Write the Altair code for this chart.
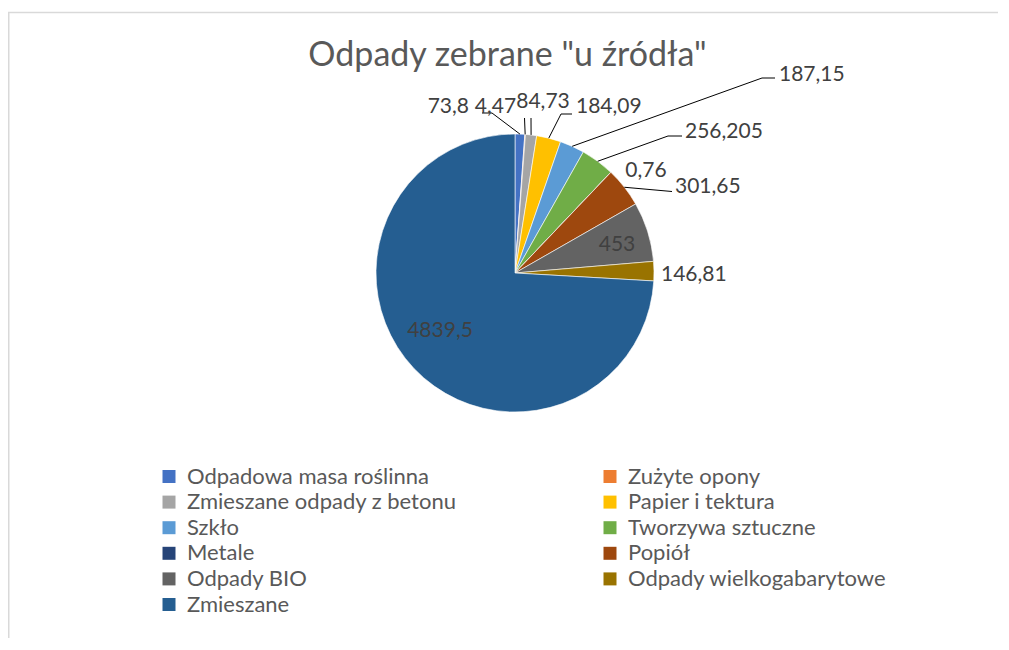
import math
import altair as alt
import pandas as pd

# ---------------- data ----------------
TITLE = 'Odpady zebrane "u źródła"'
CATEGORIES = [
    "Odpadowa masa roślinna", "Zużyte opony", "Zmieszane odpady z betonu",
    "Papier i tektura", "Szkło", "Tworzywa sztuczne", "Metale", "Popiół",
    "Odpady BIO", "Odpady wielkogabarytowe", "Zmieszane",
]
VALUES = [73.8, 4.47, 84.73, 184.09, 187.15, 256.205, 0.76, 301.65, 453, 146.81, 4839.5]
LABELS = ["73,8", "4,47", "84,73", "184,09", "187,15", "256,205", "0,76",
          "301,65", "453", "146,81", "4839,5"]
COLORS = ["#4472C4", "#ED7D31", "#A5A5A5", "#FFC000", "#5B9BD5", "#70AD47",
          "#264478", "#9E480E", "#636363", "#997300", "#255E91"]

# ---------------- layout ----------------
W, H = 990, 630          # whole drawing area (autosize none, padding 0)
CX, CY = 507, 265        # pie centre inside the view
R = 139                  # pie radius
FONT = "Lato"
TXT = "#404040"
GREY = "#595959"

# manually placed data labels (offsets from pie centre, px): (dx, dy, align)
LABEL_POS = {
    "73,8": (-46, -166, "right"),
    "4,47": (-19.5, -166, "center"),
    "84,73": (28, -171, "center"),
    "184,09": (61, -166, "left"),
    "187,15": (264, -198, "left"),
    "256,205": (170, -141, "left"),
    "0,76": (131, -102, "center"),
    "301,65": (160, -86, "left"),
    "453": (102, -28, "center"),
    "146,81": (146, 2, "left"),
    "4839,5": (-75, 58, "center"),
}
# leader line bends (after the start point on the slice edge)
LEADERS = {
    "73,8": [(-23, -160), (-33, -160)],
    "4,47": [(9.5, -155)],
    "84,73": [(16, -155)],
    "184,09": [(46, -159), (57, -159)],
    "187,15": [(247, -195), (260, -195)],
    "256,205": [(153, -137), (167, -137)],
    "301,65": [(157, -81.5)],
}

# ---------------- tables ----------------
df = pd.DataFrame({
    "category": CATEGORIES,
    "value": VALUES,
    "label": LABELS,
    "order": list(range(len(CATEGORIES))),
})

total = sum(VALUES)
starts = {}
cum = 0.0
for lab, v in zip(LABELS, VALUES):
    mid = (cum + v / 2) / total * 2 * math.pi
    starts[lab] = (R * math.sin(mid), -R * math.cos(mid))
    cum += v

lead_rows = []
for lab, bends in LEADERS.items():
    pts = [starts[lab]] + bends
    for i, (x, y) in enumerate(pts):
        lead_rows.append({"id": lab, "seq": i, "x": x, "y": y})
lead_df = pd.DataFrame(lead_rows)

lab_df = pd.DataFrame([
    {"label": k, "x": v[0], "y": v[1], "align": v[2]} for k, v in LABEL_POS.items()
])

xs = alt.Scale(domain=[-CX, W - CX], nice=False, zero=False)
ys = alt.Scale(domain=[-CY, H - CY], nice=False, zero=False, reverse=True)

arcs = alt.Chart(df).mark_arc(radius=R, stroke="white", strokeWidth=0.6).encode(
    theta=alt.Theta("value:Q", stack=True),
    order=alt.Order("order:Q"),
    color=alt.Color(
        "category:N",
        sort=CATEGORIES,
        scale=alt.Scale(domain=CATEGORIES, range=COLORS),
        legend=alt.Legend(
            title=None, orient="none", legendX=150, legendY=457.5,
            direction="horizontal", columns=2, columnPadding=142, rowPadding=3.6,
            symbolType="square", symbolSize=169, symbolStrokeWidth=0,
            labelFont=FONT, labelFontSize=22, labelColor=GREY,
            labelLimit=500, labelOffset=7, padding=0,
        ),
    ),
    x=alt.value(CX),
    y=alt.value(CY),
)

leaders = alt.Chart(lead_df).mark_line(color="#000000", strokeWidth=1).encode(
    x=alt.X("x:Q", scale=xs, axis=None),
    y=alt.Y("y:Q", scale=ys, axis=None),
    detail="id:N",
    order="seq:Q",
)

def label_layer(al):
    return alt.Chart(lab_df).transform_filter(alt.datum.align == al).mark_text(
        align=al, baseline="middle", font=FONT, fontSize=21, color=TXT
    ).encode(
        x=alt.X("x:Q", scale=xs, axis=None),
        y=alt.Y("y:Q", scale=ys, axis=None),
        text="label:N",
    )

title = alt.Chart(pd.DataFrame({"t": [TITLE]})).mark_text(
    font=FONT, fontSize=34, color=GREY, align="center", baseline="middle"
).encode(text="t:N", x=alt.value(499.5), y=alt.value(48))

one = pd.DataFrame({"a": [0]})
border_top = alt.Chart(one).mark_rule(color="#D9D9D9", strokeWidth=1.5).encode(
    x=alt.value(0), x2=alt.value(W), y=alt.value(4.5))
border_left = alt.Chart(one).mark_rule(color="#D9D9D9", strokeWidth=1.5).encode(
    x=alt.value(0.75), y=alt.value(4.5), y2=alt.value(H))

chart = alt.layer(
    border_top, border_left, arcs, leaders,
    label_layer("left"), label_layer("right"), label_layer("center"), title,
).properties(
    width=W, height=H, autosize=alt.AutoSizeParams(type="none"), padding=0
).configure_view(stroke=None)

chart.save("out.html", embed_options={"renderer": "svg", "actions": False})
